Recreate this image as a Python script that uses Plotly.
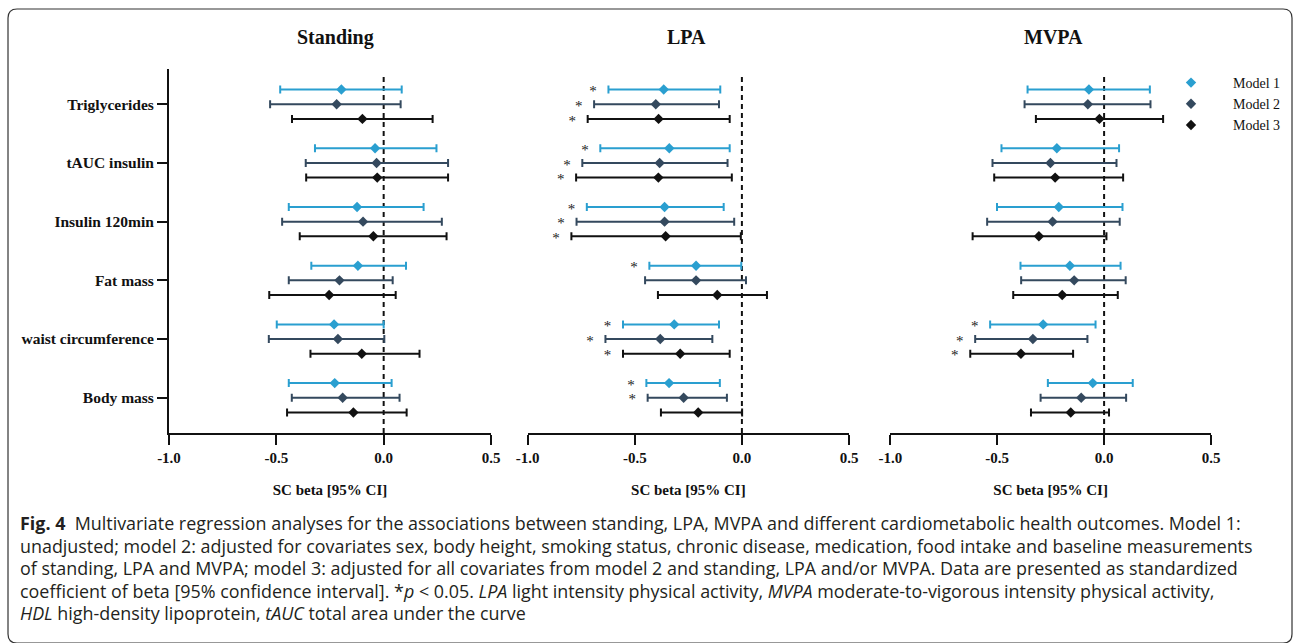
import plotly.graph_objects as go

# ---------------- data ----------------
categories = ["Triglycerides", "tAUC insulin", "Insulin 120min", "Fat mass",
              "waist circumference", "Body mass"]
panels = ["Standing", "LPA", "MVPA"]
models = ["Model 1", "Model 2", "Model 3"]
tick_vals = [-1.0, -0.5, 0.0, 0.5]
tick_text = ["-1.0", "-0.5", "0.0", "0.5"]

# Standing
standing_m1_est = [-0.197, -0.040, -0.124, -0.120, -0.231, -0.228]
standing_m1_lo = [-0.482, -0.320, -0.442, -0.337, -0.498, -0.442]
standing_m1_hi = [0.084, 0.246, 0.186, 0.104, 0.000, 0.037]
standing_m2_est = [-0.219, -0.033, -0.096, -0.206, -0.213, -0.191]
standing_m2_lo = [-0.529, -0.363, -0.473, -0.442, -0.535, -0.428]
standing_m2_hi = [0.079, 0.300, 0.271, 0.042, 0.003, 0.074]
standing_m3_est = [-0.099, -0.030, -0.048, -0.254, -0.102, -0.141]
standing_m3_lo = [-0.427, -0.361, -0.391, -0.533, -0.341, -0.450]
standing_m3_hi = [0.228, 0.300, 0.293, 0.056, 0.167, 0.107]
standing_m1_sig = [False] * 6
standing_m2_sig = [False] * 6
standing_m3_sig = [False] * 6

# LPA
lpa_m1_est = [-0.365, -0.339, -0.361, -0.214, -0.316, -0.340]
lpa_m1_lo = [-0.623, -0.661, -0.724, -0.432, -0.555, -0.446]
lpa_m1_hi = [-0.101, -0.057, -0.085, -0.003, -0.107, -0.103]
lpa_m2_est = [-0.402, -0.384, -0.361, -0.214, -0.381, -0.272]
lpa_m2_lo = [-0.690, -0.745, -0.772, -0.452, -0.637, -0.440]
lpa_m2_hi = [-0.107, -0.067, -0.036, 0.019, -0.138, -0.070]
lpa_m3_est = [-0.389, -0.390, -0.356, -0.115, -0.288, -0.204]
lpa_m3_lo = [-0.720, -0.774, -0.796, -0.392, -0.555, -0.378]
lpa_m3_hi = [-0.057, -0.047, -0.005, 0.117, -0.057, 0.001]
lpa_m1_sig = [True, True, True, True, True, True]
lpa_m2_sig = [True, True, True, False, True, True]
lpa_m3_sig = [True, True, True, False, True, False]

# MVPA
mvpa_m1_est = [-0.071, -0.221, -0.212, -0.160, -0.285, -0.053]
mvpa_m1_lo = [-0.358, -0.480, -0.501, -0.391, -0.533, -0.263]
mvpa_m1_hi = [0.214, 0.070, 0.086, 0.077, -0.040, 0.134]
mvpa_m2_est = [-0.076, -0.251, -0.241, -0.140, -0.333, -0.107]
mvpa_m2_lo = [-0.372, -0.522, -0.547, -0.388, -0.603, -0.297]
mvpa_m2_hi = [0.217, 0.058, 0.073, 0.101, -0.078, 0.103]
mvpa_m3_est = [-0.022, -0.229, -0.305, -0.196, -0.389, -0.156]
mvpa_m3_lo = [-0.319, -0.514, -0.615, -0.425, -0.626, -0.342]
mvpa_m3_hi = [0.276, 0.089, 0.011, 0.064, -0.145, 0.023]
mvpa_m1_sig = [False, False, False, False, True, False]
mvpa_m2_sig = [False, False, False, False, True, False]
mvpa_m3_sig = [False, False, False, False, True, False]

caption_lines = [
    "<b>Fig. 4</b>  Multivariate regression analyses for the associations between standing, LPA, MVPA and different cardiometabolic health outcomes. Model 1:",
    "unadjusted; model 2: adjusted for covariates sex, body height, smoking status, chronic disease, medication, food intake and baseline measurements",
    "of standing, LPA and MVPA; model 3: adjusted for all covariates from model 2 and standing, LPA and/or MVPA. Data are presented as standardized",
    "coefficient of beta [95% confidence interval]. *<i>p</i> < 0.05. <i>LPA</i> light intensity physical activity, <i>MVPA</i> moderate-to-vigorous intensity physical activity,",
    "<i>HDL</i> high-density lipoprotein, <i>tAUC</i> total area under the curve",
]

# ---------------- layout helpers ----------------
W, H = 1293, 643
colors = ["#2a9fd0", "#34495e", "#111111"]
offsets = [0.25, 0.0, -0.25]
n = len(categories)
cat_pos = [n - 1 - i for i in range(n)]
serif = "Liberation Serif, Times New Roman, serif"

panel_data = {
    "Standing": [(standing_m1_est, standing_m1_lo, standing_m1_hi, standing_m1_sig),
                 (standing_m2_est, standing_m2_lo, standing_m2_hi, standing_m2_sig),
                 (standing_m3_est, standing_m3_lo, standing_m3_hi, standing_m3_sig)],
    "LPA": [(lpa_m1_est, lpa_m1_lo, lpa_m1_hi, lpa_m1_sig),
            (lpa_m2_est, lpa_m2_lo, lpa_m2_hi, lpa_m2_sig),
            (lpa_m3_est, lpa_m3_lo, lpa_m3_hi, lpa_m3_sig)],
    "MVPA": [(mvpa_m1_est, mvpa_m1_lo, mvpa_m1_hi, mvpa_m1_sig),
             (mvpa_m2_est, mvpa_m2_lo, mvpa_m2_hi, mvpa_m2_sig),
             (mvpa_m3_est, mvpa_m3_lo, mvpa_m3_hi, mvpa_m3_sig)],
}

x_domains_px = [(169, 491), (527.7, 849), (890.3, 1211)]
title_x_px = [335, 686, 1053]
y_top_px, y_bot_px = 69, 433
y_domain = [1 - y_bot_px / H, 1 - y_top_px / H]
y_range = [-0.6, n - 1 + 0.6]

fig = go.Figure()

for p_i, panel in enumerate(panels):
    xa = "x" if p_i == 0 else f"x{p_i + 1}"
    ya = "y" if p_i == 0 else f"y{p_i + 1}"
    for m_i, (est, lo, hi, sig) in enumerate(panel_data[panel]):
        ys = [c + offsets[m_i] for c in cat_pos]
        fig.add_trace(go.Scatter(
            x=est, y=ys, xaxis=xa, yaxis=ya, mode="markers",
            name=models[m_i], legendgroup=models[m_i], showlegend=(p_i == 0),
            marker=dict(symbol="diamond", size=8, color=colors[m_i]),
            error_x=dict(type="data", symmetric=False,
                         array=[h - e for h, e in zip(hi, est)],
                         arrayminus=[e - l for e, l in zip(est, lo)],
                         color=colors[m_i], thickness=2, width=4),
            cliponaxis=False,
        ))
        star_x = [l - 0.072 for l, s in zip(lo, sig) if s]
        star_y = [y - 0.05 for y, s in zip(ys, sig) if s]
        if star_x:
            fig.add_trace(go.Scatter(
                x=star_x, y=star_y, xaxis=xa, yaxis=ya, mode="text",
                text=["*"] * len(star_x), textposition="middle center",
                textfont=dict(family=serif, size=15, color="#222222"),
                showlegend=False, hoverinfo="skip", cliponaxis=False,
            ))
    # dashed zero line
    fig.add_shape(type="line", xref=xa, yref=ya, x0=0, x1=0,
                  y0=y_range[0], y1=n - 1 + 0.53,
                  line=dict(color="#111111", width=2, dash="5px,4px"), layer="below")

axis_font = dict(family=serif, size=15, color="#111111", weight="bold")
for p_i, panel in enumerate(panels):
    sfx = "" if p_i == 0 else str(p_i + 1)
    x0, x1 = x_domains_px[p_i]
    fig.layout["xaxis" + sfx] = dict(
        domain=[x0 / W, x1 / W], anchor="y" + sfx, range=[-1.0, 0.5],
        tickvals=tick_vals, ticktext=tick_text, ticks="outside", ticklen=10,
        tickwidth=2, tickcolor="#111111", showline=True, linewidth=2,
        linecolor="#111111", showgrid=False, zeroline=False, tickfont=axis_font,
        title=dict(text="SC beta [95% CI]", font=axis_font, standoff=19),
        automargin=False, fixedrange=True,
    )
    ydict = dict(domain=y_domain, anchor="x" + sfx, range=y_range,
                 showgrid=False, zeroline=False, automargin=False, fixedrange=True)
    if p_i == 0:
        ydict.update(tickvals=cat_pos, ticktext=categories, ticks="outside",
                     ticklen=10, tickwidth=2, tickcolor="#111111", showline=True,
                     linewidth=2, linecolor="#111111",
                     tickfont=dict(family=serif, size=15.5, color="#111111", weight="bold"))
    else:
        ydict.update(visible=False)
    fig.layout["yaxis" + sfx] = ydict
    # panel title
    fig.add_annotation(text=panel, xref="paper", yref="paper",
                       x=title_x_px[p_i] / W, y=1 - 37 / H, showarrow=False,
                       xanchor="center", yanchor="middle",
                       font=dict(family=serif, size=20, color="#111111", weight="bold"))

# caption
cap_y = [523, 546, 568, 591, 613]
for line, yy in zip(caption_lines, cap_y):
    fig.add_annotation(text=line, xref="paper", yref="paper", x=18 / W,
                       y=1 - yy / H, xanchor="left", yanchor="middle",
                       showarrow=False, align="left",
                       font=dict(family="Open Sans, sans-serif", size=17.9, color="#231f20"))

# rounded frame
r = 9
x0f, y0f, x1f, y1f = 8, 9, 1292, 643
path = (f"M {x0f},{y1f - r} L {x0f},{y0f + r} Q {x0f},{y0f} {x0f + r},{y0f} "
        f"L {x1f - r},{y0f} Q {x1f},{y0f} {x1f},{y0f + r} L {x1f},{y1f - r} "
        f"Q {x1f},{y1f} {x1f - r},{y1f} L {x0f + r},{y1f} Q {x0f},{y1f} {x0f},{y1f - r} Z")

def px_path(p):
    out = []
    for tok in p.split(" "):
        if "," in tok:
            a, b = tok.split(",")
            out.append(f"{float(a) / W:.5f},{1 - float(b) / H:.5f}")
        else:
            out.append(tok)
    return " ".join(out)

fig.add_shape(type="path", xref="paper", yref="paper", path=px_path(path),
              line=dict(color="#333333", width=1.2), layer="below")

fig.update_layout(
    width=W, height=H, margin=dict(l=0, r=0, t=0, b=0),
    paper_bgcolor="white", plot_bgcolor="white",
    showlegend=True,
    legend=dict(x=1149 / W, y=1 - 67 / H, xanchor="left", yanchor="top",
                font=dict(family=serif, size=14, color="#111111"),
                bgcolor="rgba(0,0,0,0)", itemwidth=74, tracegroupgap=0),
)

fig.write_html("out.html", config={"displayModeBar": False},
               post_script="document.body.style.margin='0';document.body.style.overflow='hidden';")
